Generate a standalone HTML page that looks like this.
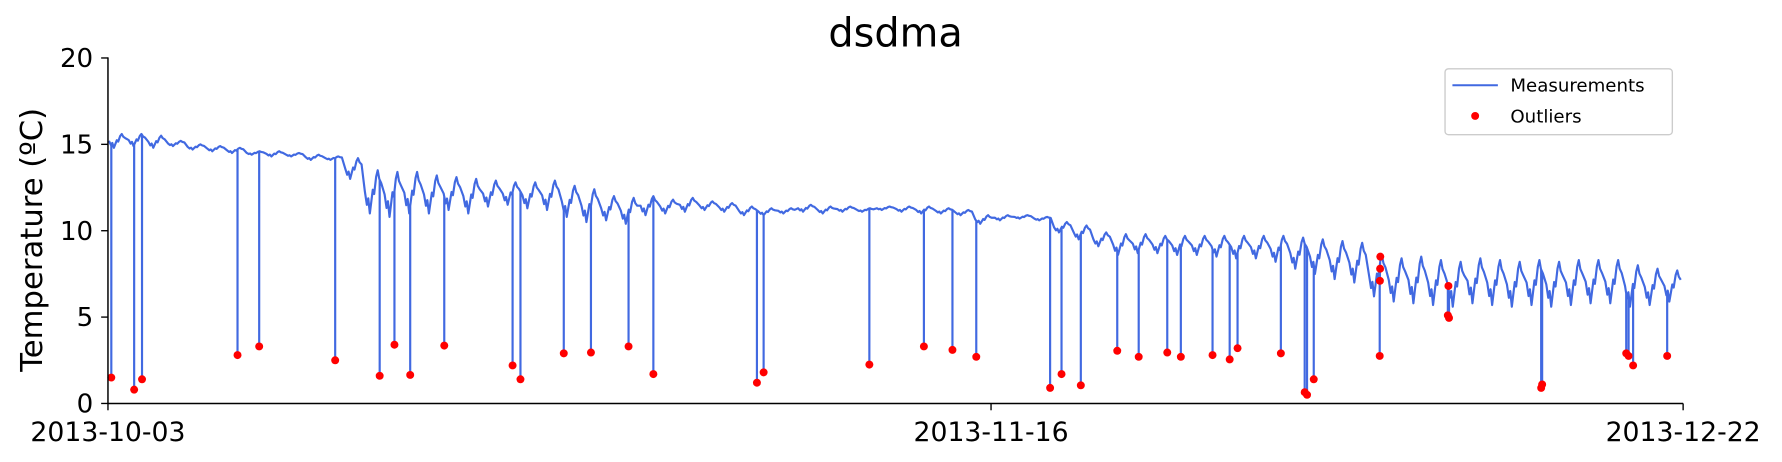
<!DOCTYPE html>
<html><head><meta charset="utf-8"><style>
html,body{margin:0;padding:0;background:#fff;}
svg{display:block;font-family:"DejaVu Sans","Liberation Sans",sans-serif;}
</style></head><body>
<svg id="chart" width="1782" height="462" viewBox="0 0 1568 406.5" xmlns="http://www.w3.org/2000/svg">
<rect width="1568" height="406.5" fill="#fff"/>
<text x="788" y="41" font-size="35" text-anchor="middle" fill="#000">dsdma</text>
<text transform="translate(37,211) rotate(-90)" font-size="27" text-anchor="middle" fill="#000">Temperature (ºC)</text>
<g id="plot"></g>
<g id="axes"></g>
<g>
<rect x="1271.5" y="60.5" width="200" height="58" rx="3" fill="#fff" stroke="#ccc" stroke-width="1.2"/>
<line x1="1278" y1="75" x2="1318" y2="75" stroke="#4169e1" stroke-width="1.8"/>
<text x="1329" y="80.5" font-size="16">Measurements</text>
<circle cx="1298" cy="102" r="3.5" fill="red"/>
<text x="1329" y="108" font-size="16">Outliers</text>
</g>
</svg>
<script>
const dailyHigh=[15.6,15.6,15.5,15.2,15.0,14.9,14.8,14.6,14.6,14.5,14.4,14.3,14.2,13.5,13.4,13.4,13.2,13.1,13.0,12.9,12.8,12.8,12.9,12.6,12.4,12.0,11.9,12.0,11.8,11.9,11.7,11.6,11.4,11.3,11.3,11.5,11.4,11.4,11.3,11.4,11.4,11.4,11.3,11.2,10.9,10.9,10.9,10.8,10.5,10.3,9.9,9.8,9.8,9.7,9.7,9.7,9.7,9.7,9.7,9.7,9.6,9.5,9.4,9.3,8.6,8.4,8.5,8.3,8.2,8.4,8.3,8.2,8.3,8.2,8.3,8.3,8.3,8.0,7.8,7.7];
const dailyLow=[14.8,14.9,14.8,14.9,14.7,14.6,14.5,14.4,14.3,14.3,14.1,14.1,13.0,11.0,10.8,11.0,11.0,11.2,11.0,11.4,11.5,11.3,11.2,10.8,10.5,10.6,10.4,10.9,11.0,11.1,11.2,11.1,10.9,10.9,11.0,11.1,11.0,11.1,11.1,11.2,11.1,11.0,11.0,10.9,10.4,10.6,10.7,10.6,9.9,9.5,9.1,8.6,8.7,8.7,8.6,8.6,8.5,8.4,8.4,8.2,7.8,7.5,7.2,7.0,6.2,5.9,5.8,5.7,5.6,5.8,5.7,5.6,5.7,5.6,5.7,5.8,5.8,5.6,5.7,5.9];
const outlierDays=[0.17,1.33,1.73,6.58,7.68,11.54,13.8,14.55,15.35,17.08,20.55,20.95,23.15,24.53,26.44,27.7,32.96,33.3,38.67,41.44,42.89,44.1,47.85,48.43,49.41,51.26,52.35,53.8,54.49,56.1,56.97,57.37,59.57,60.78,60.9,61.24,64.59,64.6,64.61,64.62,68.05,68.08,68.11,72.79,72.84,77.11,77.23,77.46,79.19];
const outlierVals=[1.5,0.8,1.4,2.8,3.3,2.5,1.6,3.4,1.65,3.35,2.2,1.4,2.9,2.95,3.3,1.7,1.2,1.8,2.25,3.3,3.1,2.7,0.9,1.7,1.05,3.05,2.7,2.95,2.7,2.8,2.55,3.2,2.9,0.65,0.5,1.4,2.75,7.1,7.8,8.5,5.1,6.8,4.95,0.9,1.1,2.9,2.75,2.2,2.75];
const yTicks=[0,5,10,15,20];
const xTickDays=[0,44.85,80];
const xTickLabels=["2013-10-03","2013-11-16","2013-12-22"];

const X0=95,X1=1481,Y0=355,Y1=51,DMAX=80,VMAX=20;
const xs=d=>X0+(d/DMAX)*(X1-X0);
const ys=v=>Y0-(v/VMAX)*(Y0-Y1);
const NS="http://www.w3.org/2000/svg";
const plot=document.getElementById('plot'),axes=document.getElementById('axes');
function mk(tag,attrs,parent){const e=document.createElementNS(NS,tag);for(const k in attrs)e.setAttribute(k,attrs[k]);parent.appendChild(e);return e;}

let pts=[];
for(let i=0;i<dailyHigh.length;i++){
  const h=dailyHigh[i],l=dailyLow[i],r=h-l;
  pts.push([i+0.05,l+r*0.5]);
  pts.push([i+0.15,l+r*0.2]);
  pts.push([i+0.22,l+r*0.35]);
  pts.push([i+0.3,l]);
  pts.push([i+0.45,l+r*0.55]);
  pts.push([i+0.52,l+r*0.45]);
  pts.push([i+0.62,l+r*0.85]);
  pts.push([i+0.7,h]);
  pts.push([i+0.78,l+r*0.8]);
  pts.push([i+0.88,l+r*0.7]);
}
pts=pts.filter(p=>p[0]<=DMAX);
function baseAt(d){for(let i=1;i<pts.length;i++){if(pts[i][0]>=d){const a=pts[i-1],b=pts[i];const t=(d-a[0])/(b[0]-a[0]);return a[1]+t*(b[1]-a[1]);}}return pts[pts.length-1][1];}
let all=pts.slice();
for(let i=0;i<outlierDays.length;i++){const d=outlierDays[i];const b=baseAt(d);all.push([d-0.001,b]);all.push([d,outlierVals[i]]);all.push([d+0.001,b]);}
all.sort((a,b)=>a[0]-b[0]);
const line=mk('path',{d:'M'+all.map(p=>xs(p[0]).toFixed(2)+','+ys(p[1]).toFixed(2)).join('L'),fill:'none',stroke:'#4169e1','stroke-width':1.9,'stroke-linejoin':'round'},plot);


for(let i=0;i<outlierDays.length;i++){
  const c=mk('circle',{cx:xs(outlierDays[i]),cy:ys(outlierVals[i]),r:3.5,fill:'red'},plot);
  
  
}
mk('line',{x1:X0,y1:Y1-0.5,x2:X0,y2:Y0,stroke:'#000','stroke-width':1.3},axes);
mk('line',{x1:X0,y1:Y0,x2:X1,y2:Y0,stroke:'#000','stroke-width':1.3},axes);
yTicks.forEach(v=>{
  mk('line',{x1:X0-6,y1:ys(v),x2:X0,y2:ys(v),stroke:'#000','stroke-width':1.2},axes);
  const t=mk('text',{x:X0-13,y:ys(v)+8,'font-size':23,'text-anchor':'end'},axes);t.textContent=v;
  
  
});
xTickDays.forEach((d,i)=>{
  mk('line',{x1:xs(d),y1:Y0,x2:xs(d),y2:Y0+6,stroke:'#000','stroke-width':1.2},axes);
  const t=mk('text',{x:xs(d),y:Y0+33,'font-size':23.5,'text-anchor':'middle'},axes);t.textContent=xTickLabels[i];
  
  
});
</script>
</body></html>
